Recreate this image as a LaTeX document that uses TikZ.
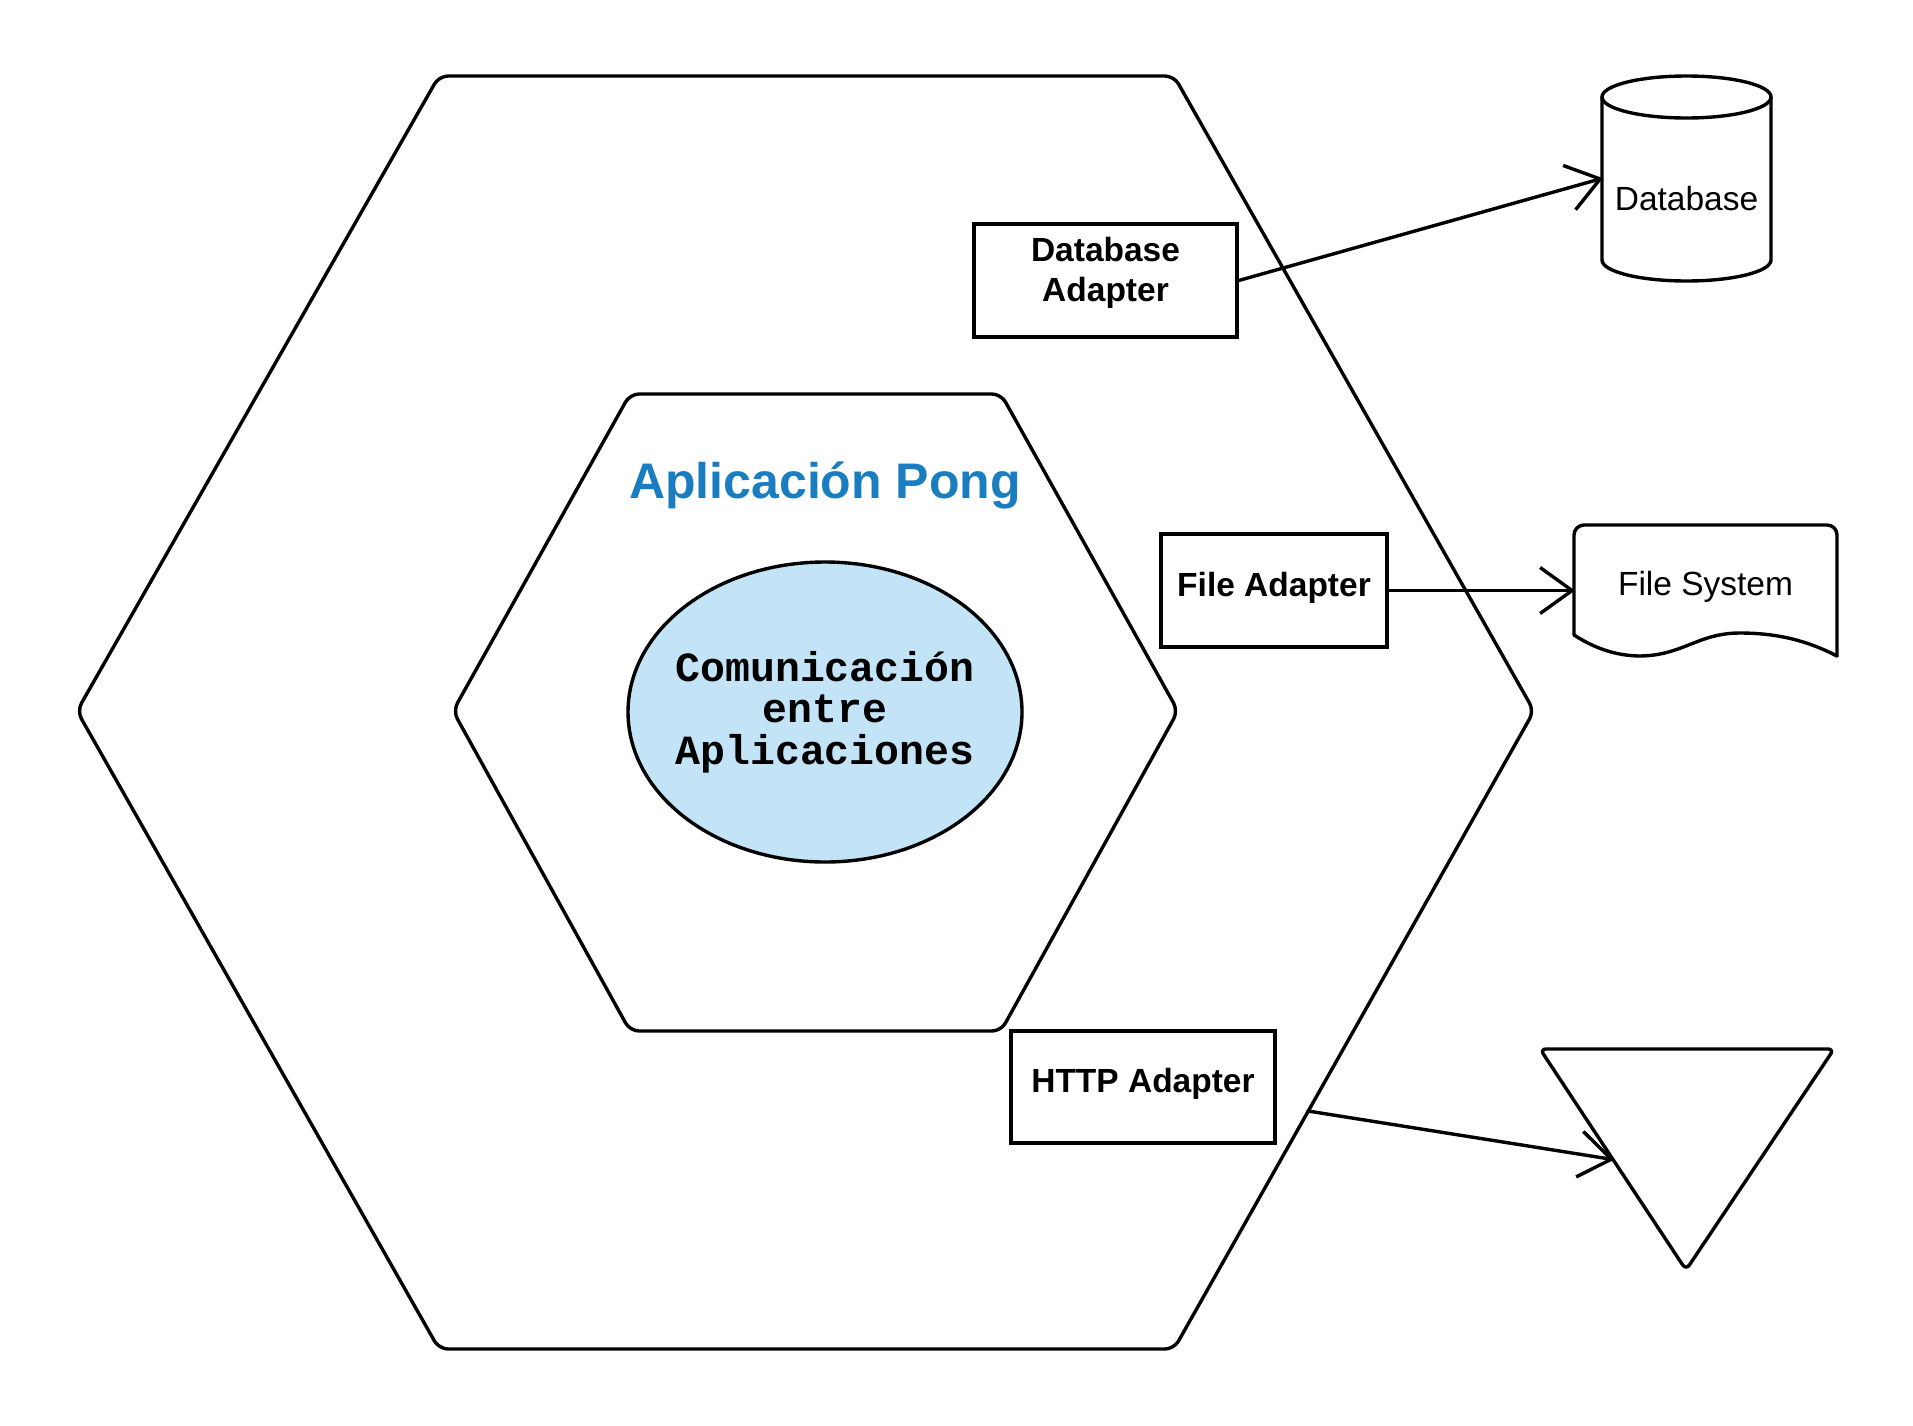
\documentclass[tikz,border=0pt]{standalone}
\usepackage{fontspec}
\setmainfont{Liberation Sans}
\newfontfamily\codefont{Liberation Mono}
\usetikzlibrary{arrows.meta,shapes.geometric}
\definecolor{titleblue}{HTML}{1A7DC0}
\definecolor{ellfill}{HTML}{C2E4F6}
\begin{document}
\begin{tikzpicture}[x=1pt,y=-1pt,
  hexline/.style={line width=3.4pt, rounded corners=9pt, line join=round},
  adapter/.style={draw, line width=3.4pt, inner sep=0pt},
  adaptertext/.style={inner sep=0pt, align=center, font=\fontsize{33.5}{40}\selectfont\bfseries},
  shapeline/.style={line width=3.4pt, line join=round, line cap=round},
  plainlabel/.style={inner sep=0pt, align=center, font=\fontsize{33.5}{40}\selectfont},
  conn/.style={line width=3.4pt, line cap=round,
    -{Straight Barb[length=32pt,width=46pt,line join=round]}}]
\useasboundingbox (0,0) rectangle (1913,1425);

% outer hexagon
\draw[hexline] (806,76) -- (1174,76) -- (1534,711) -- (1174,1349) -- (439,1349) -- (77,711) -- (439,76) -- cycle;
% inner hexagon
\draw[hexline] (815,394) -- (1001,394) -- (1178,711) -- (1001,1031) -- (630,1031) -- (453,711) -- (630,394) -- cycle;

\node[font=\fontsize{50}{60}\selectfont\bfseries, text=titleblue] (title) at (825,485) {Aplicación Pong};

\node[ellipse, draw, fill=ellfill, line width=3.4pt, minimum width=394pt, minimum height=300pt,
  inner sep=0pt,
  label={[inner sep=0pt, align=center, font=\codefont\bfseries\fontsize{41.5}{41.5}\selectfont]center:Comunicación\\entre\\Aplicaciones}]
  (core) at (825,712) {};

% adapters
\node[adapter, minimum width=263pt, minimum height=113pt,
  label={[adaptertext, yshift=7.5pt]center:Database\\Adapter}] (dba) at (1105.5,280.5) {};
\node[adapter, minimum width=226pt, minimum height=113pt,
  label={[adaptertext, yshift=3pt]center:File Adapter}] (fa) at (1274,590.5) {};
\node[adapter, minimum width=264pt, minimum height=112pt,
  label={[adaptertext, yshift=3pt]center:HTTP Adapter}] (ha) at (1143,1087) {};

% database cylinder
\draw[shapeline] (1686.5,97) ellipse [x radius=84.5, y radius=21];
\draw[shapeline] (1602,97) -- (1602,260) .. controls (1602,271.6) and (1639.8,281) .. (1686.5,281)
  .. controls (1733.2,281) and (1771,271.6) .. (1771,260) -- (1771,97);
\node[minimum width=169pt, minimum height=205pt, inner sep=0pt,
  label={[plainlabel, yshift=-20pt]center:Database}] (db) at (1686.5,178.5) {};

% file system document
\draw[shapeline, rounded corners=10pt] (1574,635) -- (1574,525) -- (1837,525) -- (1837,656);
\draw[shapeline] (1837,656) .. controls (1810,642) and (1780,633) .. (1740,633)
  .. controls (1705,633) and (1690,648) .. (1660,654)
  .. controls (1630,660) and (1600,652) .. (1574,635);
\node[minimum width=263pt, minimum height=131pt, inner sep=0pt,
  label={[plainlabel, yshift=4pt]center:File System}] (fs) at (1705.5,590.5) {};

% triangle
\draw[shapeline, rounded corners=6pt] (1687,1049) -- (1834,1049) -- (1686,1270) -- (1540,1049) -- cycle;
\coordinate (trileft) at (1613,1159.5);
\coordinate (hexpt) at (1308,1111);

% connectors
\draw[conn] (dba.east) -- (db.west);
\draw[conn] (fa.east) -- (fs.west);
\draw[conn] (hexpt) -- (trileft);
\end{tikzpicture}
\end{document}
